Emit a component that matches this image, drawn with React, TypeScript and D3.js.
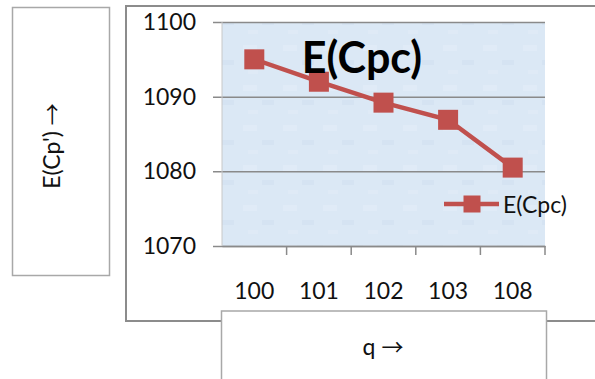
import * as d3 from 'd3';
import { useEffect, useRef } from 'react';

const categories = ['100', '101', '102', '103', '108'];
const values = [1095.0, 1092.0, 1089.2, 1086.9, 1080.5];
const yTicks = [1070, 1080, 1090, 1100];
const seriesName = 'E(Cpc)';

const FONT = "Lato, 'Open Sans', sans-serif";
const ARROW_FONT = "'Noto Sans CJK SC', 'DejaVu Sans', sans-serif";
const RED = '#C0504D';

function App() {
    const svgRef = useRef<SVGSVGElement | null>(null);

    useEffect(() => {
        if (!svgRef.current) return;
        const svg = d3.select(svgRef.current);
        svg.selectAll('*').remove();

        const plot = { left: 222, right: 545, top: 22, bottom: 246 };

        const x = d3.scaleBand<string>()
            .domain(categories)
            .range([plot.left, plot.right]);

        const y = d3.scaleLinear()
            .domain([1070, 1100])
            .range([plot.bottom, plot.top]);

        svg.append('rect')
            .attr('width', 595).attr('height', 379)
            .attr('fill', 'white');

        // chart frame
        svg.append('rect')
            .attr('x', 126).attr('y', 6)
            .attr('width', 480).attr('height', 315)
            .attr('fill', 'white')
            .attr('stroke', '#8c8c8c')
            .attr('stroke-width', 2);

        // plot background with a soft texture
        const defs = svg.append('defs');
        const pat = defs.append('pattern')
            .attr('id', 'paper')
            .attr('patternUnits', 'userSpaceOnUse')
            .attr('width', 40).attr('height', 40);
        pat.append('rect').attr('width', 40).attr('height', 40).attr('fill', '#dbe8f5');
        pat.append('rect').attr('x', 3).attr('y', 5).attr('width', 14).attr('height', 6).attr('fill', '#e3edf8').attr('opacity', 0.7);
        pat.append('rect').attr('x', 22).attr('y', 20).attr('width', 12).attr('height', 5).attr('fill', '#d4e2f1').attr('opacity', 0.7);
        pat.append('rect').attr('x', 8).attr('y', 30).attr('width', 10).attr('height', 4).attr('fill', '#e2ecf7').attr('opacity', 0.7);

        svg.append('rect')
            .attr('x', plot.left).attr('y', plot.top)
            .attr('width', plot.right - plot.left)
            .attr('height', plot.bottom - plot.top)
            .attr('fill', 'url(#paper)');

        // y axis with gridlines
        const yAxis = svg.append('g')
            .attr('transform', `translate(${plot.left},0)`)
            .call(d3.axisLeft(y).tickValues(yTicks).tickSize(-(plot.right - plot.left)).tickPadding(26).tickFormat(d3.format('d')));
        yAxis.select('.domain').remove();
        yAxis.selectAll('.tick line')
            .attr('x1', -9)
            .attr('stroke', '#8a8a8a')
            .attr('stroke-width', 1.5);
        yAxis.selectAll('.tick text')
            .attr('fill', '#111')
            .attr('font-family', FONT)
            .attr('font-size', '23px');

        svg.append('line')
            .attr('x1', plot.left).attr('x2', plot.left)
            .attr('y1', plot.top).attr('y2', plot.bottom)
            .attr('stroke', '#c8c8c8');

        // x axis
        const xAxis = svg.append('g')
            .attr('transform', `translate(0,${plot.bottom})`)
            .call(d3.axisBottom(x).tickSize(0).tickPadding(37));
        xAxis.select('.domain')
            .attr('stroke', '#8a8a8a')
            .attr('stroke-width', 1.5);
        xAxis.selectAll('.tick text')
            .attr('fill', '#111')
            .attr('font-family', FONT)
            .attr('font-size', '23px');
        svg.append('g')
            .selectAll('line')
            .data(categories)
            .enter().append('line')
            .attr('x1', d => (x(d) ?? 0) + x.bandwidth())
            .attr('x2', d => (x(d) ?? 0) + x.bandwidth())
            .attr('y1', plot.bottom)
            .attr('y2', plot.bottom + 9)
            .attr('stroke', '#8a8a8a')
            .attr('stroke-width', 1.5);

        // series
        const cx = (d: string) => (x(d) ?? 0) + x.bandwidth() / 2;
        const line = d3.line<number>()
            .x((d, i) => cx(categories[i]))
            .y(d => y(d));

        svg.append('path')
            .datum(values)
            .attr('d', line)
            .attr('fill', 'none')
            .attr('stroke', RED)
            .attr('stroke-width', 4.5);

        const sz = 20;
        svg.selectAll('.dot')
            .data(values)
            .enter().append('rect')
            .attr('class', 'dot')
            .attr('x', (d, i) => cx(categories[i]) - sz / 2)
            .attr('y', d => y(d) - sz / 2)
            .attr('width', sz).attr('height', sz)
            .attr('fill', RED);

        // title
        svg.append('text')
            .attr('x', 362).attr('y', 73)
            .attr('text-anchor', 'middle')
            .attr('font-family', FONT)
            .attr('font-weight', 'bold')
            .attr('font-size', '43px')
            .attr('fill', '#000')
            .text(seriesName);

        // legend
        const lg = svg.append('g');
        lg.append('line')
            .attr('x1', 444).attr('x2', 499)
            .attr('y1', 204).attr('y2', 204)
            .attr('stroke', RED).attr('stroke-width', 4.5);
        lg.append('rect')
            .attr('x', 472 - 8.5).attr('y', 204 - 8.5)
            .attr('width', 17).attr('height', 17)
            .attr('fill', RED);
        lg.append('text')
            .attr('x', 503).attr('y', 205)
            .attr('dy', '0.35em')
            .attr('font-family', FONT)
            .attr('font-size', '23px')
            .attr('fill', '#111')
            .text(seriesName);

        // axis title boxes
        svg.append('rect')
            .attr('x', 12.5).attr('y', 7.5)
            .attr('width', 97).attr('height', 268)
            .attr('fill', 'white')
            .attr('stroke', '#a8a8a8').attr('stroke-width', 1.5);
        const yTitle = svg.append('text')
            .attr('transform', 'translate(52,146) rotate(-90)')
            .attr('text-anchor', 'middle')
            .attr('dy', '0.35em')
            .attr('font-family', FONT)
            .attr('font-size', '23px')
            .attr('fill', '#111');
        yTitle.append('tspan').text("E(Cp') ");
        yTitle.append('tspan').attr('font-family', ARROW_FONT).attr('font-size', '22px').text('\u2192');

        svg.append('rect')
            .attr('x', 221.5).attr('y', 311)
            .attr('width', 325).attr('height', 80)
            .attr('fill', 'white')
            .attr('stroke', '#a8a8a8').attr('stroke-width', 1.5);
        const xTitle = svg.append('text')
            .attr('x', 383).attr('y', 347)
            .attr('text-anchor', 'middle')
            .attr('dy', '0.35em')
            .attr('font-family', FONT)
            .attr('font-size', '23px')
            .attr('fill', '#111');
        xTitle.append('tspan').text('q ');
        xTitle.append('tspan').attr('font-family', ARROW_FONT).attr('font-size', '22px').text('\u2192');

        return () => {
            d3.select(svgRef.current).selectAll('*').remove();
        };
    }, []);

    return (
        <svg ref={svgRef} width={595} height={379}
            style={{ position: 'absolute', left: 0, top: 0, display: 'block' }} />
    );
}

export default App;
